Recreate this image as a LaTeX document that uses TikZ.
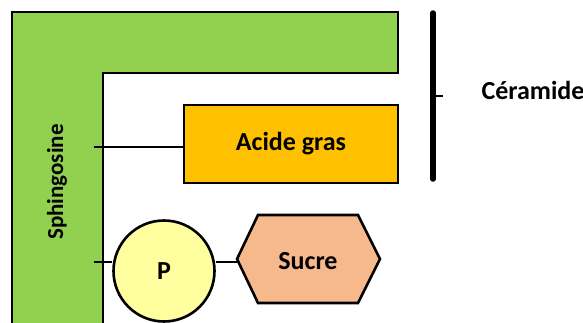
\documentclass[tikz,border=0pt]{standalone}
\usepackage{fontspec}
\setmainfont{Carlito}
\usetikzlibrary{positioning,shapes.geometric}
\definecolor{sphgreen}{HTML}{92D050}
\definecolor{acidorange}{HTML}{FFC000}
\definecolor{pyellow}{HTML}{FFFF9F}
\definecolor{sugarpeach}{HTML}{F6B98C}
\tikzset{%
   part/.style={draw=black, line width=2.6pt, inner sep=0pt, font=\bfseries\fontsize{26}{30}\selectfont},
   link/.style={line width=2.6pt},
}

\begin{document}
\begin{tikzpicture}[x=1pt, y=-1pt]
   \clip (0,0) rectangle (583,322);
   % sphingosine
   \draw[fill=sphgreen, line width=2.6pt] (12,340) -- (12,12) -- (398,12) -- (398,73) -- (103,73) -- (103,340) -- cycle;
   \node[rotate=90, font=\bfseries\fontsize{23}{27}\selectfont] (sph) at (57,182) {Sphingosine};
   \coordinate (s1) at (94,147);
   \coordinate (s2) at (94,262);
   % groupes
   \node[part, fill=acidorange, minimum width=214pt, minimum height=78pt] (acide) at (291,144) {Acide gras};
   \node[part, circle, fill=pyellow, minimum size=101pt] (p) at (164,271) {P};
   \draw[part, fill=sugarpeach] (237,259) coordinate (hexw) -- (258,215) -- (358,215)
      -- (380,259) -- (358,303) -- (258,303) -- cycle;
   \node[font=\bfseries\fontsize{26}{30}\selectfont] (sucre) at (308,261) {Sucre};
   \draw[link] (s1) -- (s1 -| acide.west);
   \draw[link] (s2) -- (s2 -| p.west);
   \draw[link] (p.east |- s2) -- (hexw |- s2);
   % ceramide
   \coordinate (ctop) at (433,13);
   \coordinate (cbot) at (433,179);
   \coordinate (cmid) at (433,96);
   \draw[line width=5.5pt, line cap=round] (ctop) -- (cbot);
   \draw[line width=2pt] (cmid) -- ++(10,0);
   \node[anchor=west, font=\bfseries\fontsize{26}{30}\selectfont] (ceram) at (478,90) {Céramide};
\end{tikzpicture}
\end{document}
